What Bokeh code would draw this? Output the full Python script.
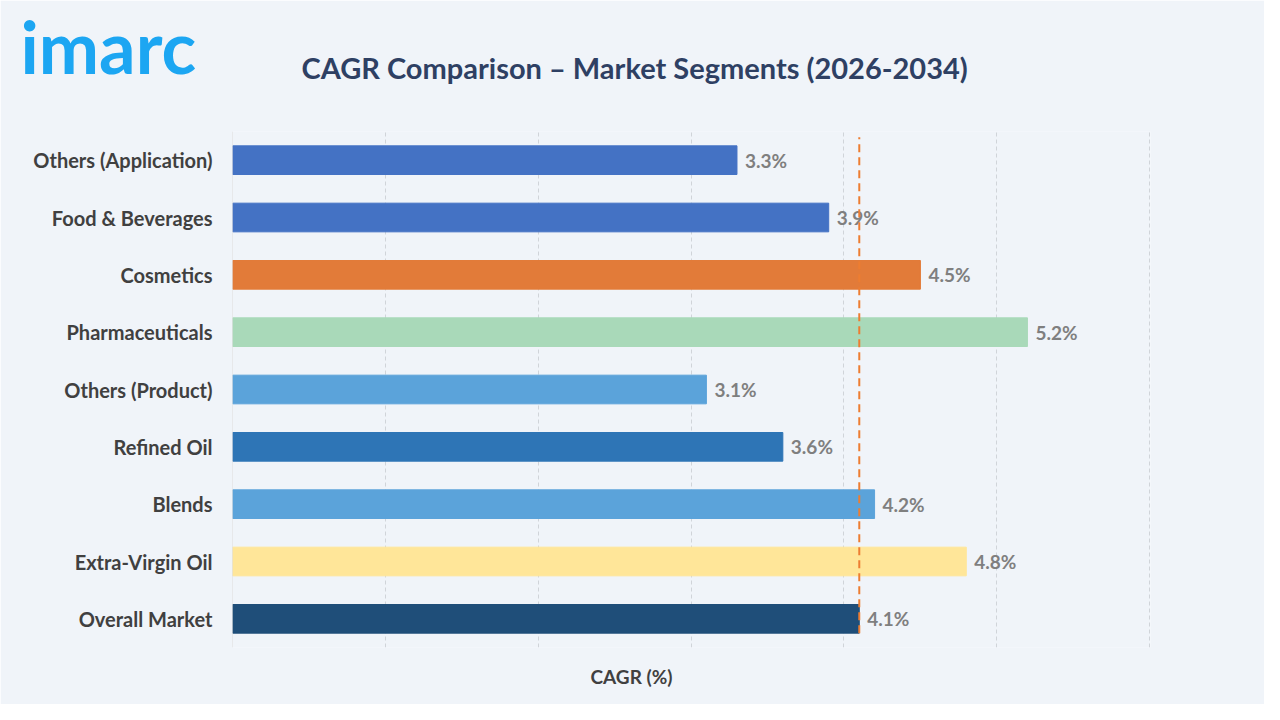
from bokeh.plotting import figure
from bokeh.models import ColumnDataSource, FactorRange, Range1d, FixedTicker, Span, Title
from bokeh.core.properties import value
from bokeh.embed import file_html
from bokeh.resources import INLINE

# Data (top to bottom as in the reference)
categories = ["Others (Application)", "Food & Beverages", "Cosmetics", "Pharmaceuticals",
              "Others (Product)", "Refined Oil", "Blends", "Extra-Virgin Oil", "Overall Market"]
cagr = [3.3, 3.9, 4.5, 5.2, 3.1, 3.6, 4.2, 4.8, 4.1]
colors = ["#4472C4", "#4472C4", "#E27B39", "#A9D9B9", "#5BA3DA", "#2E75B6", "#5BA3DA", "#FFE699", "#1F4E79"]
labels = [f"{v:.1f}%" for v in cagr]
overall = cagr[categories.index("Overall Market")]
x_ticks = [0, 1, 2, 3, 4, 5, 6]
title_text = "CAGR Comparison \u2013 Market Segments (2026-2034)"
logo_text = "imarc"
x_title = "CAGR (%)"

FONT = "Lato"
BG = "#F0F4F9"

factors = list(reversed(categories))
src = ColumnDataSource(dict(cat=categories, val=cagr, color=colors, label=labels))

p = figure(width=1264, height=704, y_range=FactorRange(factors=factors, range_padding=0),
           x_range=Range1d(0, 6.005), output_backend="svg", toolbar_location=None,
           min_border_left=232, min_border_right=114, min_border_top=131, min_border_bottom=57)
p.background_fill_color = BG
p.border_fill_color = BG
p.outline_line_color = None

bar_h = 0.5
p.hbar(y="cat", right="val", left=0, height=bar_h, color="color", source=src)

p.text(x="val", y="cat", text="label", source=src, x_offset=8, text_align="left",
       text_baseline="middle", text_font=value(FONT), text_font_style="bold",
       text_font_size="19px", text_color="#7F7F7F")

# Overall market reference line
p.segment(x0=[overall], x1=[overall], y0=[0.5 - bar_h / 2], y1=[len(categories) - 0.1],
          line_color="#ED7D31", line_width=2, line_dash="8 5")

p.add_layout(Span(location=0, dimension="height", line_color="#D9D9D9", line_width=1))

# Axes and grid
p.xaxis.visible = False
p.xgrid.ticker = FixedTicker(ticks=x_ticks)
p.xgrid.grid_line_color = "#D0D4D9"
p.xgrid.grid_line_dash = "4 3"
p.ygrid.grid_line_color = None

p.yaxis.axis_line_color = None
p.yaxis.major_tick_line_color = None
p.yaxis.minor_tick_line_color = None
p.yaxis.major_tick_out = 0
p.yaxis.major_label_standoff = 20
p.yaxis.major_label_text_font = FONT
p.yaxis.major_label_text_font_style = "bold"
p.yaxis.major_label_text_font_size = "20px"
p.yaxis.major_label_text_color = "#404040"

# Logo (outer title panel, shifted down), main title (panel next to the frame), x-axis title below
p.title.text = logo_text
p.title.align = "left"
p.title.offset = -212
p.title.standoff = -175
p.title.text_font = FONT
p.title.text_font_style = "bold"
p.title.text_font_size = "72px"
p.title.text_color = "#1CA6F2"

p.add_layout(Title(text=title_text, align="left", offset=69, standoff=93,
                   text_font=FONT, text_font_style="bold", text_font_size="29px",
                   text_color="#2E4063"), "above")
p.add_layout(Title(text=x_title, align="left", offset=358, standoff=31,
                   text_font=FONT, text_font_style="bold", text_font_size="19px",
                   text_color="#404040"), "below")

open("out.html", "w").write(file_html(p, INLINE))
